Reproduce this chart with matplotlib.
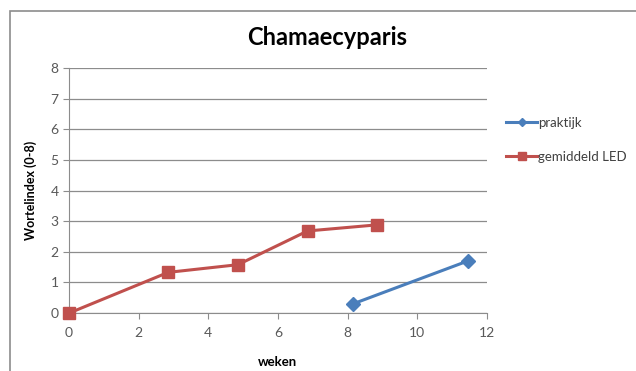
import matplotlib
matplotlib.use("Agg")
import matplotlib.pyplot as plt
from matplotlib.patches import Rectangle

plt.rcParams["font.family"] = ["Lato", "DejaVu Sans"]

led_weeks = [0, 2.85, 4.85, 6.85, 8.85]
led_index = [0, 1.33, 1.58, 2.68, 2.88]
praktijk_weeks = [8.15, 11.45]
praktijk_index = [0.3, 1.7]

fig = plt.figure(figsize=(6.36, 3.71), dpi=100)
fig.patches.append(Rectangle((0.016, -0.01), 1.0, 0.98, transform=fig.transFigure,
                             fill=False, edgecolor="#8c8c8c", linewidth=1.2))
ax = fig.add_axes([0.1085, 0.156, 0.657, 0.661])

ax.plot(praktijk_weeks, praktijk_index, color="#4a7ebb", linewidth=2.2,
        marker="D", markersize=7, label="praktijk", clip_on=False, zorder=3)
ax.plot(led_weeks, led_index, color="#c0504d", linewidth=2.2,
        marker="s", markersize=8, label="gemiddeld LED", clip_on=False, zorder=3)

ax.set_xlim(0, 12)
ax.set_ylim(0, 8)
ax.set_xticks(range(0, 13, 2))
ax.set_yticks(range(0, 9))
ax.grid(axis="y", color="#8c8c8c", linewidth=0.9)
ax.set_axisbelow(True)
for s in ["top", "right"]:
    ax.spines[s].set_visible(False)
for s in ["left", "bottom"]:
    ax.spines[s].set_color("#8c8c8c")
ax.tick_params(colors="#8c8c8c", labelcolor="#595959", labelsize=10, length=4)
ax.tick_params(axis="x", pad=6)

fig.text(0.515, 0.90, "Chamaecyparis", fontsize=17, fontweight="bold",
         ha="center", va="center")
ax.set_xlabel("weken", fontsize=9.5, fontweight="bold", labelpad=12)
ax.set_ylabel("Wortelindex (0-8)", fontsize=9, fontweight="bold", labelpad=10)

ax.legend(loc="upper left", bbox_to_anchor=(0.788, 0.70), bbox_transform=fig.transFigure,
          frameon=False, fontsize=9.5, labelspacing=1.7, handlelength=2.3,
          handletextpad=0.1, borderaxespad=0, labelcolor="#404040", markerscale=0.65)

fig.savefig("out.png", dpi=100)
